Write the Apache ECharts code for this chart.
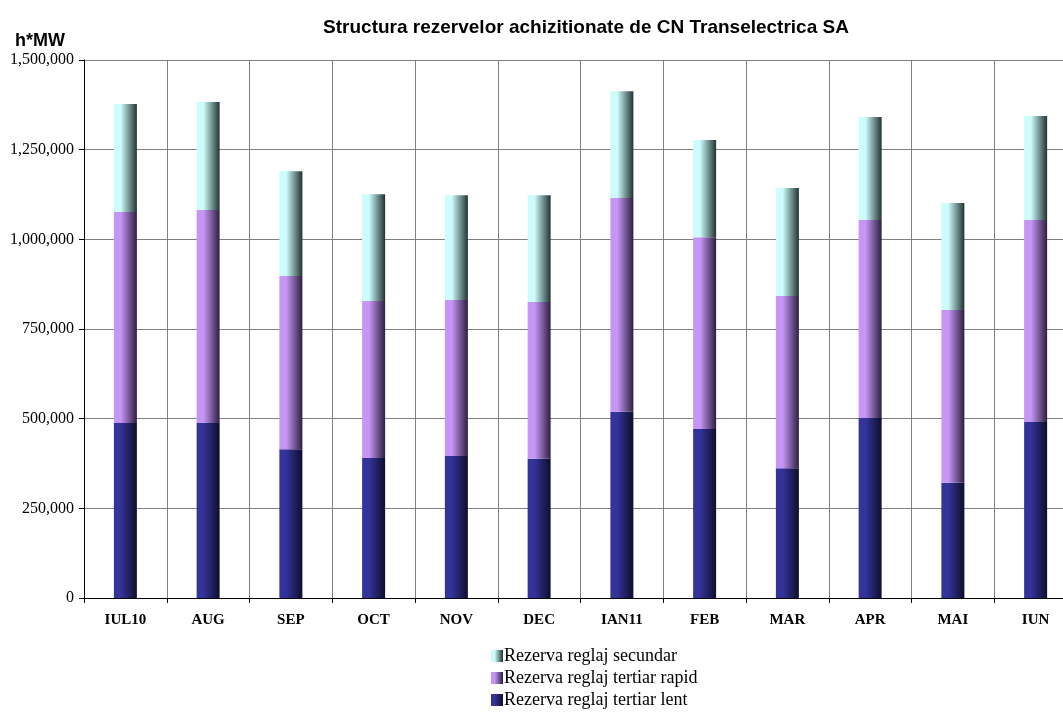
<!DOCTYPE html>
<html>
<head>
<meta charset="utf-8">
<script src="https://cdn.jsdelivr.net/npm/echarts@6/dist/echarts.min.js"></script>
<style>
  html, body { margin: 0; padding: 0; background: #fff; }
  #chart { width: 1063px; height: 713px; }
</style>
</head>
<body>
<div id="chart"></div>
<script>
// luni
const categories = ["IUL10", "AUG", "SEP", "OCT", "NOV", "DEC", "IAN11", "FEB", "MAR", "APR", "MAI", "IUN"];

// h*MW
const tertiarLent = [488000, 488000, 415000, 390000, 396000, 388000, 519000, 471000, 362000, 502000, 321000, 491000];
const tertiarRapid = [588000, 594000, 483000, 438000, 435000, 437000, 596000, 535000, 480000, 552000, 482000, 563000];
const secundar = [301000, 301000, 292000, 298000, 292000, 298000, 298000, 271000, 301000, 287000, 298000, 290000];

const seriesNames = ["Rezerva reglaj secundar", "Rezerva reglaj tertiar rapid", "Rezerva reglaj tertiar lent"];

const chart = echarts.init(document.getElementById("chart"));

function grad(light, dark) {
  // coloana cu umbra spre dreapta
  return new echarts.graphic.LinearGradient(0, 0, 1, 0, [
    { offset: 0, color: light },
    { offset: 0.3, color: light },
    { offset: 1, color: dark }
  ]);
}

chart.setOption({
  animation: false,
  title: [
    {
      text: "Structura rezervelor achizitionate de CN Transelectrica SA",
      left: 581,
      textAlign: "center",
      top: 13,
      textStyle: { fontFamily: "Liberation Sans", fontSize: 19, fontWeight: "bold", color: "#000" }
    },
    {
      text: "h*MW",
      left: 10,
      top: 27,
      textStyle: { fontFamily: "Liberation Sans", fontSize: 18, fontWeight: "bold", color: "#000" }
    }
  ],
  legend: {
    orient: "vertical",
    left: 491,
    top: 647,
    padding: 0,
    icon: "rect",
    itemWidth: 12,
    itemHeight: 12,
    itemGap: 4,
    data: seriesNames,
    textStyle: { fontFamily: "Liberation Serif", fontSize: 18, color: "#000", padding: [0, 0, 0, -4] }
  },
  grid: {
    left: 84,
    width: 993,
    top: 60,
    bottom: 115,
    outerBoundsMode: "none"
  },
  xAxis: {
    type: "category",
    data: categories,
    axisLine: { lineStyle: { color: "#000", width: 1 } },
    axisTick: { show: true, length: 5, lineStyle: { color: "#000" } },
    splitLine: { show: true, lineStyle: { color: "#808080", width: 1 } },
    axisLabel: {
      margin: 15,
      fontFamily: "Liberation Serif",
      fontSize: 15,
      fontWeight: "bold",
      color: "#000"
    }
  },
  yAxis: {
    type: "value",
    min: 0,
    max: 1500000,
    interval: 250000,
    axisLine: { show: true, lineStyle: { color: "#000", width: 1 } },
    axisTick: { show: true, length: 5, lineStyle: { color: "#000" } },
    splitLine: { show: true, lineStyle: { color: "#808080", width: 1 } },
    axisLabel: {
      margin: 10,
      fontFamily: "Liberation Serif",
      fontSize: 16,
      color: "#000",
      formatter: v => v.toLocaleString("en-US")
    }
  },
  series: [
    {
      name: seriesNames[2],
      type: "bar",
      stack: "total",
      barWidth: 23,
      data: tertiarLent,
      itemStyle: { color: grad("#333399", "#0e0e2c") }
    },
    {
      name: seriesNames[1],
      type: "bar",
      stack: "total",
      barWidth: 23,
      data: tertiarRapid,
      itemStyle: { color: grad("#c696f6", "#2c1f3e") }
    },
    {
      name: seriesNames[0],
      type: "bar",
      stack: "total",
      barWidth: 23,
      data: secundar,
      itemStyle: { color: grad("#ccfcfc", "#223232") }
    }
  ]
});
</script>
</body>
</html>
